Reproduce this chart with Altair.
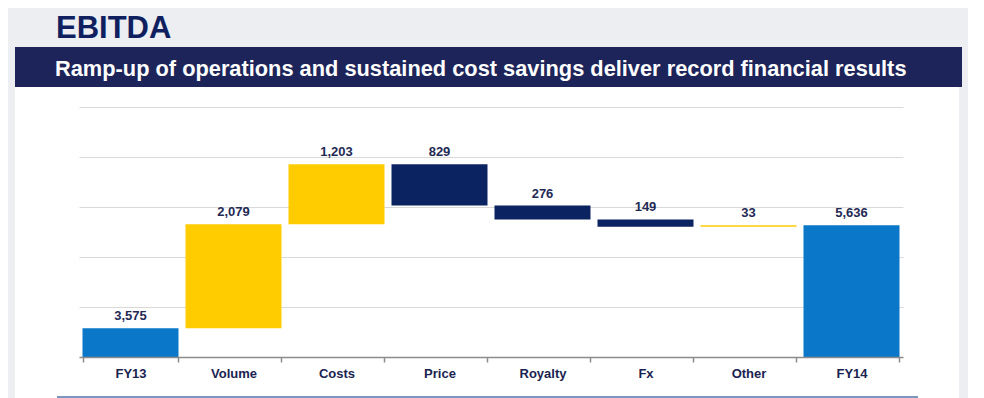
import altair as alt
import pandas as pd

categories = ["FY13", "Volume", "Costs", "Price", "Royalty", "Fx", "Other", "FY14"]
values = [3575, 2079, 1203, -829, -276, -149, 33, 5636]
kinds = ["total", "up", "up", "down", "down", "down", "up", "total"]
grid_values = [3000, 4000, 5000, 6000, 7000, 8000]

title_text = "EBITDA"
banner_text = "Ramp-up of operations and sustained cost savings deliver record financial results"

rows = []
running = 0
for c, v, k in zip(categories, values, kinds):
    if k == "total":
        start, end = 0, v
        running = v
    else:
        start, end = running, running + v
        running = end
    rows.append(dict(cat=c, start=start, end=end, top=max(start, end),
                     label=f"{abs(v):,}", kind=k))
df = pd.DataFrame(rows)

FONT = "Liberation Sans"
GREY = "#eceef2"
one = alt.Data(values=[{}])

top_bg = alt.Chart(one).mark_rect(color=GREY).encode(
    x=alt.value(-71), x2=alt.value(889), y=alt.value(-99), y2=alt.value(-60))
right_bg = alt.Chart(one).mark_rect(color=GREY).encode(
    x=alt.value(880), x2=alt.value(889), y=alt.value(-99), y2=alt.value(291))
left_bg = alt.Chart(one).mark_rect(color=GREY).encode(
    x=alt.value(-71), x2=alt.value(-64), y=alt.value(-99), y2=alt.value(291))

banner = alt.Chart(one).mark_rect(color="#1d2459").encode(
    x=alt.value(-64), x2=alt.value(883), y=alt.value(-60), y2=alt.value(-20))

banner_label = alt.Chart(one).mark_text(
    text=banner_text, font=FONT, fontSize=21.8, fontWeight="bold", color="white",
    align="left", baseline="alphabetic").encode(x=alt.value(-24), y=alt.value(-31))

title_label = alt.Chart(one).mark_text(
    text=title_text, font=FONT, fontSize=31, fontWeight="bold", color="#0f1f5f",
    align="left", baseline="alphabetic").encode(x=alt.value(-23), y=alt.value(-69))

bottom_line = alt.Chart(one).mark_rule(color="#4f74a8", strokeWidth=1.5).encode(
    x=alt.value(-22), x2=alt.value(839), y=alt.value(290))

x_enc = alt.X("cat:N", sort=categories,
              scale=alt.Scale(paddingInner=0.068, paddingOuter=0.034),
              axis=alt.Axis(title=None, grid=False, labelAngle=0, tickBand="extent",
                            domainColor="#8c8c8c", domainWidth=1.5, tickColor="#8c8c8c",
                            tickSize=5, tickWidth=1.5, labelFont=FONT, labelFontSize=13,
                            labelFontWeight="bold", labelColor="#1a2350", labelPadding=5,
                            zindex=1))
y_scale = alt.Scale(domain=[3000, 8000], clamp=True, nice=False, zero=False)

bars = alt.Chart(df).mark_bar().encode(
    x=x_enc,
    y=alt.Y("start:Q", scale=y_scale,
            axis=alt.Axis(title=None, labels=False, ticks=False, domain=False,
                          grid=True, values=grid_values, gridColor="#d9d9d9")),
    y2="end:Q",
    color=alt.Color("kind:N", legend=None,
                    scale=alt.Scale(domain=["total", "up", "down"],
                                    range=["#0a77c9", "#ffcc00", "#0c2362"])),
)

labels = alt.Chart(df).mark_text(
    dy=-5, baseline="bottom", font=FONT, fontSize=13, fontWeight="bold",
    color="#1f2a55").encode(
    x=alt.X("cat:N", sort=categories),
    y=alt.Y("top:Q", scale=y_scale),
    text="label:N",
)

chart = alt.layer(top_bg, right_bg, left_bg, banner, banner_label, title_label,
                  bottom_line, bars, labels).properties(
    width=824, height=250,
    autosize=alt.AutoSizeParams(type="none"),
    padding={"left": 71, "top": 99, "right": 73, "bottom": 41},
    background="white",
).configure_view(stroke=None)

chart.save("out.html", embed_options={"renderer": "svg", "actions": False})
